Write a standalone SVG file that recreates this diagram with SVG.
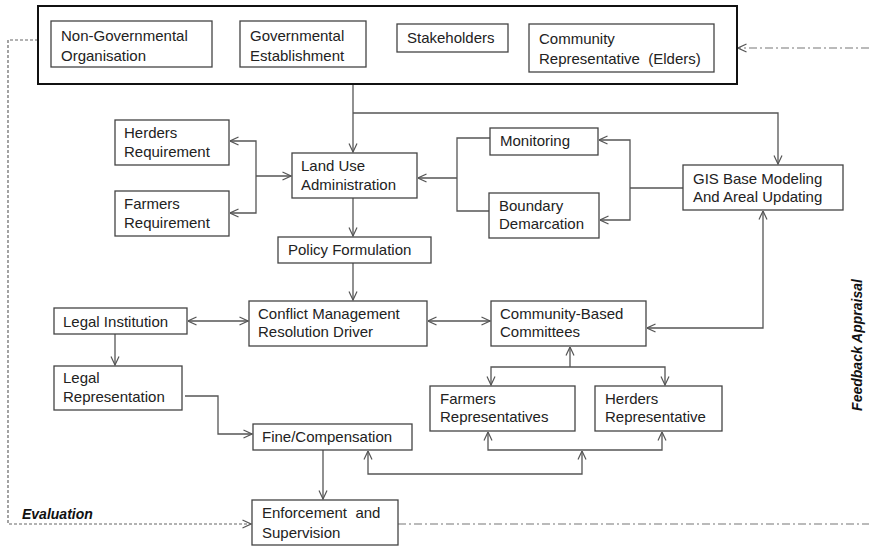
<svg xmlns="http://www.w3.org/2000/svg" width="869" height="547" viewBox="0 0 869 547">
<style>
.box{fill:#fff;stroke:#444;stroke-width:1.3}
.t{font-family:"Liberation Sans",Arial,sans-serif;font-size:15px;fill:#222}
.c{fill:none;stroke:#555;stroke-width:1.3}
.dot{fill:none;stroke:#666;stroke-width:1.2;stroke-dasharray:3,2}
.dd{fill:none;stroke:#777;stroke-width:1.2;stroke-dasharray:8,3,2,3}
.lbl{font-family:"Liberation Sans",Arial,sans-serif;font-size:14px;font-weight:bold;font-style:italic;fill:#111}
</style>
<defs>
<marker id="a" markerUnits="userSpaceOnUse" markerWidth="10" markerHeight="10" viewBox="0 0 10 10" refX="9.5" refY="5" orient="auto-start-reverse">
<path d="M1,1 L9.5,5 L1,9" fill="none" stroke="#555" stroke-width="1.2"/>
</marker>
</defs>
<rect width="869" height="547" fill="#fff"/>

<g id="connectors">
<path class="c" d="M353,84 V152" marker-end="url(#a)"/>
<path class="c" d="M353,113 H778 V164" marker-end="url(#a)"/>
<path class="c" d="M230,141 H256 V213 H230" marker-start="url(#a)" marker-end="url(#a)"/>
<path class="c" d="M256,176 H291" marker-end="url(#a)"/>
<path class="c" d="M490,138 H457 V211 H489"/>
<path class="c" d="M457,178 H418" marker-end="url(#a)"/>
<path class="c" d="M599,140 H630 V220 H600" marker-start="url(#a)" marker-end="url(#a)"/>
<path class="c" d="M630,188 H683"/>
<path class="c" d="M353,198 V236" marker-end="url(#a)"/>
<path class="c" d="M353,263 V300" marker-end="url(#a)"/>
<path class="c" d="M763,211 V328 H647" marker-start="url(#a)" marker-end="url(#a)"/>
<path class="c" d="M188,321 H248" marker-start="url(#a)" marker-end="url(#a)"/>
<path class="c" d="M428,321 H490" marker-start="url(#a)" marker-end="url(#a)"/>
<path class="c" d="M115,334 V365" marker-end="url(#a)"/>
<path class="c" d="M185,396 H218 V434 H252" marker-end="url(#a)"/>
<path class="c" d="M570,347 V367" marker-start="url(#a)"/>
<path class="c" d="M491,385 V367 H665 V385" marker-start="url(#a)" marker-end="url(#a)"/>
<path class="c" d="M488,432 V450 H662 V432" marker-start="url(#a)" marker-end="url(#a)"/>
<path class="c" d="M368,451 V474 H582 V451" marker-start="url(#a)" marker-end="url(#a)"/>
<path class="c" d="M323,450 V499" marker-end="url(#a)"/>
<path class="dot" d="M38,40 H8 V524 H251" marker-end="url(#a)"/>
<path class="dd" d="M398,524 H869"/>
<path class="dd" d="M869,48 H738" marker-end="url(#a)"/>
</g>

<g id="stakeholder-group">
<rect x="38" y="6" width="699" height="78" fill="#fff" stroke="#111" stroke-width="2"/>
</g>
<g id="ngo"><rect class="box" x="51" y="21" width="161" height="46"/>
<text class="t" x="61" y="41">Non-Governmental</text><text class="t" x="61" y="61">Organisation</text></g>
<g id="gov"><rect class="box" x="240" y="21" width="126" height="46"/>
<text class="t" x="250" y="41">Governmental</text><text class="t" x="250" y="61">Establishment</text></g>
<g id="stakeholders"><rect class="box" x="397" y="24" width="111" height="28"/>
<text class="t" x="407" y="43">Stakeholders</text></g>
<g id="community-rep"><rect class="box" x="529" y="24" width="185" height="48"/>
<text class="t" x="539" y="44">Community</text><text class="t" x="539" y="64" xml:space="preserve">Representative  (Elders)</text></g>

<g id="herders-req"><rect class="box" x="115" y="120" width="114" height="45"/>
<text class="t" x="124" y="138">Herders</text><text class="t" x="124" y="157">Requirement</text></g>
<g id="farmers-req"><rect class="box" x="115" y="191" width="114" height="45"/>
<text class="t" x="124" y="209">Farmers</text><text class="t" x="124" y="228">Requirement</text></g>
<g id="land-use"><rect class="box" x="292" y="153" width="125" height="45"/>
<text class="t" x="301" y="171">Land Use</text><text class="t" x="301" y="190">Administration</text></g>
<g id="policy"><rect class="box" x="278" y="237" width="153" height="26"/>
<text class="t" x="288" y="255">Policy Formulation</text></g>
<g id="monitoring"><rect class="box" x="490" y="128" width="108" height="27"/>
<text class="t" x="500" y="146">Monitoring</text></g>
<g id="boundary"><rect class="box" x="489" y="193" width="110" height="45"/>
<text class="t" x="499" y="211">Boundary</text><text class="t" x="499" y="229">Demarcation</text></g>
<g id="gis"><rect class="box" x="683" y="165" width="160" height="45"/>
<text class="t" x="693" y="184">GIS Base Modeling</text><text class="t" x="693" y="202">And Areal Updating</text></g>

<g id="legal-inst"><rect class="box" x="54" y="308" width="133" height="26"/>
<text class="t" x="63" y="327">Legal Institution</text></g>
<g id="conflict"><rect class="box" x="249" y="301" width="178" height="45"/>
<text class="t" x="258" y="319">Conflict Management</text><text class="t" x="258" y="337">Resolution Driver</text></g>
<g id="cbc"><rect class="box" x="491" y="301" width="155" height="45"/>
<text class="t" x="500" y="319">Community-Based</text><text class="t" x="500" y="337">Committees</text></g>
<g id="legal-rep"><rect class="box" x="54" y="366" width="128" height="44"/>
<text class="t" x="63" y="383">Legal</text><text class="t" x="63" y="402">Representation</text></g>
<g id="farmers-rep"><rect class="box" x="430" y="386" width="145" height="45"/>
<text class="t" x="440" y="404">Farmers</text><text class="t" x="440" y="422">Representatives</text></g>
<g id="herders-rep"><rect class="box" x="595" y="386" width="127" height="45"/>
<text class="t" x="605" y="404">Herders</text><text class="t" x="605" y="422">Representative</text></g>
<g id="fine"><rect class="box" x="253" y="424" width="159" height="26"/>
<text class="t" x="262" y="442">Fine/Compensation</text></g>
<g id="enforcement"><rect class="box" x="252" y="500" width="146" height="45"/>
<text class="t" x="262" y="518" xml:space="preserve">Enforcement  and</text><text class="t" x="262" y="538">Supervision</text></g>

<g id="labels">
<text class="lbl" x="22" y="519">Evaluation</text>
<text class="lbl" transform="translate(862,345) rotate(-90)" text-anchor="middle">Feedback Appraisal</text>
</g>
</svg>
